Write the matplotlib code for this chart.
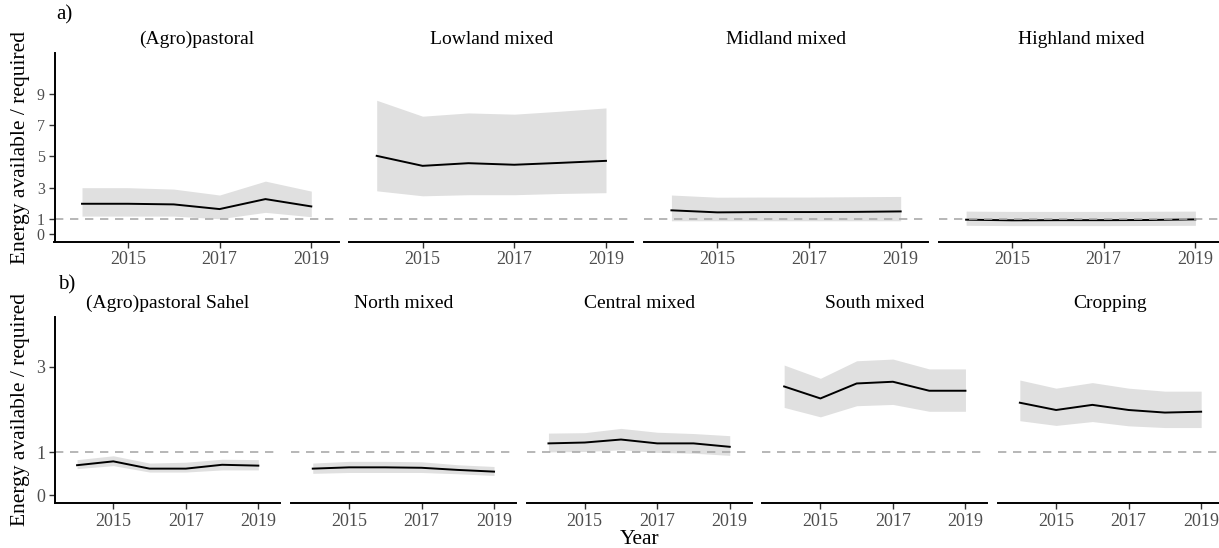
import matplotlib
matplotlib.use("Agg")
import matplotlib.pyplot as plt

plt.rcParams["font.family"] = ["Liberation Serif", "DejaVu Serif"]

years = [2014, 2015, 2016, 2017, 2018, 2019]

# a) zonas de Etiopía
zones_a = ["(Agro)pastoral", "Lowland mixed", "Midland mixed", "Highland mixed"]
mean_a = [
    [1.96, 1.96, 1.92, 1.62, 2.26, 1.79],
    [5.03, 4.39, 4.56, 4.46, 4.58, 4.71],
    [1.54, 1.41, 1.43, 1.43, 1.44, 1.47],
    [0.94, 0.90, 0.91, 0.91, 0.92, 0.96],
]
upper_a = [
    [2.99, 2.99, 2.90, 2.52, 3.41, 2.77],
    [8.59, 7.57, 7.78, 7.70, 7.89, 8.10],
    [2.52, 2.38, 2.39, 2.39, 2.41, 2.43],
    [1.49, 1.47, 1.47, 1.47, 1.48, 1.49],
]
lower_a = [
    [1.17, 1.17, 1.17, 1.00, 1.41, 1.13],
    [2.79, 2.47, 2.54, 2.54, 2.62, 2.67],
    [0.87, 0.87, 0.87, 0.87, 0.87, 0.87],
    [0.58, 0.56, 0.56, 0.56, 0.57, 0.58],
]

# b) zonas de Burkina Faso
zones_b = ["(Agro)pastoral Sahel", "North mixed", "Central mixed", "South mixed", "Cropping"]
mean_b = [
    [0.70, 0.79, 0.62, 0.62, 0.71, 0.69],
    [0.62, 0.65, 0.65, 0.64, 0.59, 0.55],
    [1.21, 1.23, 1.30, 1.21, 1.21, 1.13],
    [2.54, 2.26, 2.61, 2.65, 2.44, 2.44],
    [2.16, 1.99, 2.11, 1.99, 1.93, 1.95],
]
upper_b = [
    [0.83, 0.92, 0.75, 0.77, 0.84, 0.83],
    [0.75, 0.79, 0.79, 0.78, 0.71, 0.67],
    [1.45, 1.46, 1.56, 1.47, 1.44, 1.39],
    [3.04, 2.73, 3.14, 3.18, 2.95, 2.95],
    [2.69, 2.50, 2.63, 2.50, 2.43, 2.43],
]
lower_b = [
    [0.62, 0.69, 0.54, 0.54, 0.59, 0.59],
    [0.51, 0.53, 0.53, 0.53, 0.50, 0.46],
    [1.01, 1.02, 1.06, 1.00, 0.98, 0.93],
    [2.05, 1.83, 2.09, 2.12, 1.96, 1.96],
    [1.74, 1.63, 1.72, 1.62, 1.58, 1.58],
]

yticks_a = [0, 1, 3, 5, 7, 9]
yticks_b = [0, 1, 3]

W, H = 1219, 548
fig = plt.figure(figsize=(W / 100, H / 100), dpi=100)


def fila(zones, mean, upper, lower, left, step, width, top, bottom, ylim, yticks,
         pad, ysize):
    for i, zone in enumerate(zones):
        x0 = left + i * step
        ax = fig.add_axes([x0 / W, 1 - bottom / H, width / W, (bottom - top) / H])
        ax.fill_between(years, lower[i], upper[i], color="#e0e0e0", linewidth=0)
        ax.plot(years, mean[i], color="black", linewidth=1.4)
        ax.axhline(1, color="#aaaaaa", linestyle=(0, (5, 4)), linewidth=1.2)
        ax.set_xlim(2013.4, 2019.6)
        ax.set_ylim(*ylim)
        ax.set_xticks([2015, 2017, 2019])
        ax.set_title(zone, fontsize=14, pad=pad)
        for s in ["top", "right"]:
            ax.spines[s].set_visible(False)
        ax.spines["bottom"].set_linewidth(1.4)
        ax.spines["left"].set_linewidth(1.4)
        ax.tick_params(axis="both", width=1.0, length=4,
                       colors="#333333", labelcolor="#4d4d4d", pad=3)
        ax.tick_params(axis="x", labelsize=13)
        ax.tick_params(axis="y", labelsize=ysize)
        if i == 0:
            ax.set_yticks(yticks)
            ax.set_ylabel("Energy available / required", fontsize=15.5, labelpad=5)
        else:
            ax.spines["left"].set_visible(False)
            ax.set_yticks([])
        ax.set_facecolor("none")
    return ax


fila(zones_a, mean_a, upper_a, lower_a, 54.5, 294.7, 284.3, 53.3, 241.7,
     (-0.47, 11.6), yticks_a, 7, 11.5)
fila(zones_b, mean_b, upper_b, lower_b, 55.3, 235.7, 224.8, 316.7, 503.3,
     (-0.19, 4.17), yticks_b, 6, 13)

fig.text(56 / W, 1 - 15 / H, "a)", fontsize=15, va="center")
fig.text(58 / W, 1 - 285 / H, "b)", fontsize=15, va="center")
fig.text(640 / W, 1 - 539 / H, "Year", fontsize=15.5, ha="center", va="center")

plt.savefig("out.png", dpi=100)
